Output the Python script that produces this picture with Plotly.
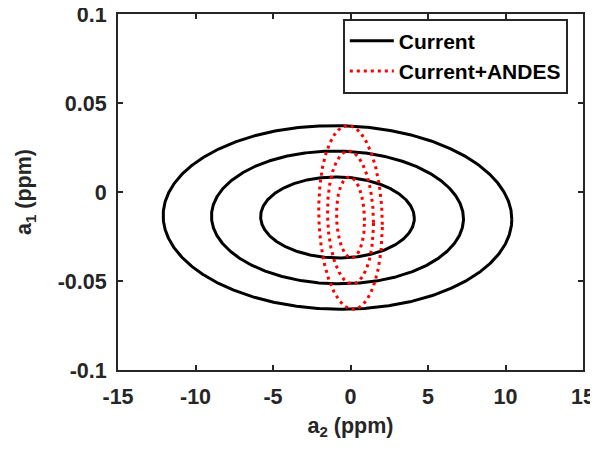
import numpy as np
import plotly.graph_objects as go

# ---- data ----
x_tick_vals = [-15, -10, -5, 0, 5, 10, 15]
x_tick_text = ["-15", "-10", "-5", "0", "5", "10", "15"]
y_tick_vals = [-0.1, -0.05, 0, 0.05, 0.1]
y_tick_text = ["-0.1", "-0.05", "0", "0.05", "0.1"]

series_names = ["Current", "Current+ANDES"]
center_a2 = [-0.84, 0.0]        # ppm
center_a1 = [-0.0143, -0.0143]  # ppm
sigma_a2 = [3.27, 0.597]
sigma_a1 = [0.0150, 0.0150]
corr = [-0.02, -0.08]
chi2_levels = [2.30, 6.18, 11.83]   # 1, 2, 3 sigma (2 dof)

series_colors = ["black", "red"]
series_dash = ["solid", "3px,4px"]

fig = go.Figure()
t = np.linspace(0, 2 * np.pi, 721)
for i, name in enumerate(series_names):
    for j, lev in enumerate(chi2_levels):
        r = np.sqrt(lev)
        xs = center_a2[i] + r * sigma_a2[i] * np.cos(t)
        ys = center_a1[i] + r * sigma_a1[i] * (corr[i] * np.cos(t) + np.sqrt(1 - corr[i] ** 2) * np.sin(t))
        fig.add_trace(go.Scatter(
            x=xs, y=ys, mode="lines", name=name,
            showlegend=(j == 0),
            line=dict(color=series_colors[i], width=3, dash=series_dash[i]),
            hoverinfo="skip",
        ))

axis_color = "#262626"
font_family = "Liberation Sans, Arial, sans-serif"
common_axis = dict(
    showgrid=False, zeroline=False, showline=True, linewidth=2, linecolor=axis_color,
    mirror="ticks", ticks="inside", ticklen=5, tickwidth=1.5, tickcolor=axis_color,
    automargin=False, ticklabeloverflow="allow",
    tickfont=dict(family=font_family, size=21.5, color=axis_color, weight="bold"),
)

# the page body has an 8px default margin: the figure sits at (8, 8) and is
# sized so that the page itself does not scroll
fig.update_layout(
    width=590, height=436,
    margin=dict(l=110, r=15, t=6, b=74),
    paper_bgcolor="white", plot_bgcolor="white",
    font=dict(family=font_family, color=axis_color),
    xaxis=dict(
        range=[-15, 15], tickvals=x_tick_vals, ticktext=x_tick_text,
        ticklabelstandoff=6,
        title=dict(text="a<sub>2</sub> (ppm)", standoff=10,
                   font=dict(family=font_family, size=21.5, color=axis_color, weight="bold")),
        **common_axis,
    ),
    yaxis=dict(
        range=[-0.1, 0.1], tickvals=y_tick_vals, ticktext=y_tick_text,
        ticklabelstandoff=5,
        title=dict(text="a<sub>1</sub> (ppm)", standoff=20,
                   font=dict(family=font_family, size=21.5, color=axis_color, weight="bold")),
        **common_axis,
    ),
    legend=dict(
        x=0.4835, y=0.987, xanchor="left", yanchor="top",
        bgcolor="white", bordercolor=axis_color, borderwidth=2,
        font=dict(family=font_family, size=21, color="black", weight="bold"),
        itemwidth=44, tracegroupgap=0,
    ),
    showlegend=True,
)

fig.write_html("out.html")
